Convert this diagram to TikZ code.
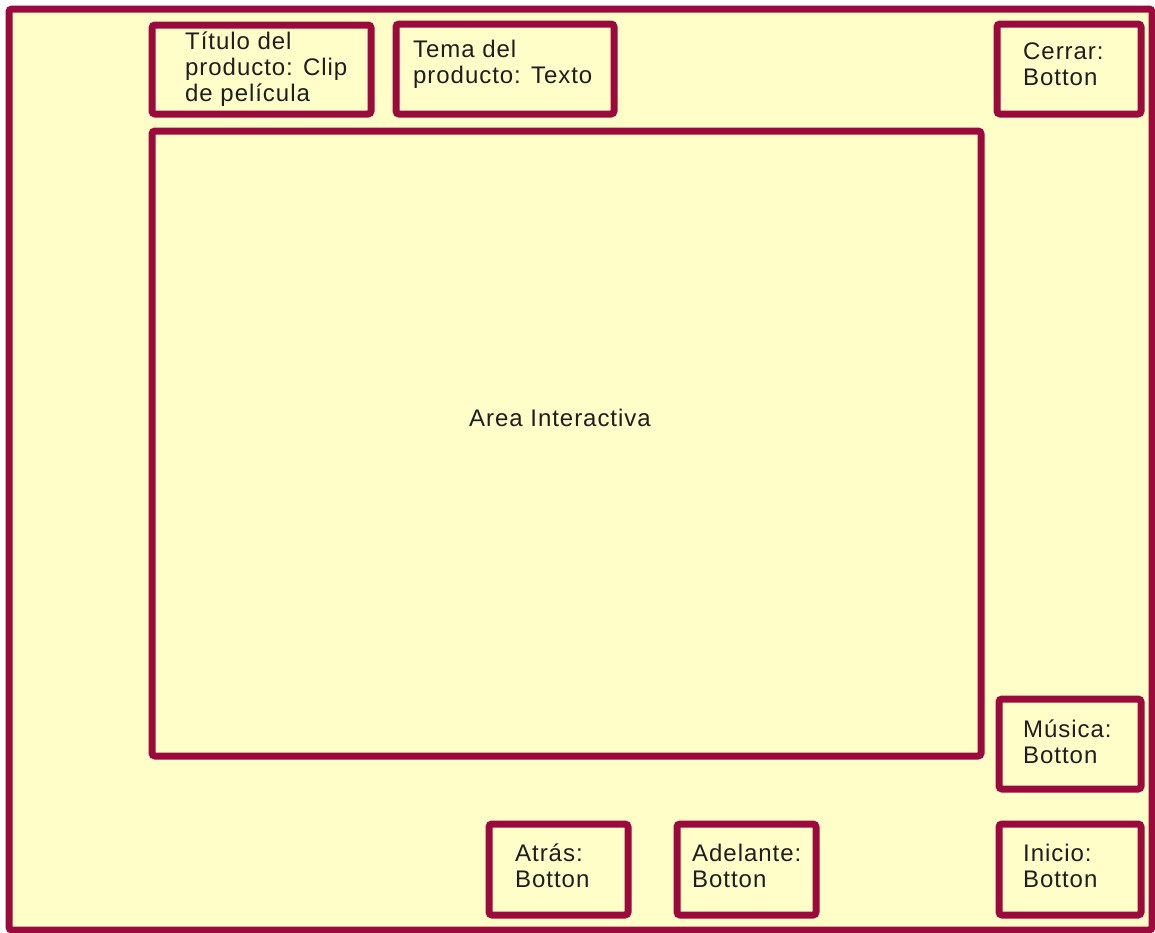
\documentclass[tikz,border=0pt]{standalone}
\usepackage{fontspec}
\newfontfamily\panelfont{Liberation Sans}[LetterSpace=4]
\definecolor{frame}{HTML}{9B0A3C}
\definecolor{paper}{HTML}{FFFDC8}
\definecolor{ink}{HTML}{1E1E1E}
\begin{document}
\begin{tikzpicture}[x=1pt,y=-1pt,
  panel/.style={draw=frame,line width=7pt,rounded corners=3pt,fill=paper,
    inner sep=0pt,outer sep=0pt},
  caption/.style={anchor=base west,inner sep=0pt,text=ink,align=left,
    font=\panelfont\fontsize{24}{26}\selectfont}]
  % page area and outer frame
  \useasboundingbox (0,0) rectangle (1155,932);
  \clip (0,0) rectangle (1155,932);
  \fill[white] (0,0) rectangle (1155,932);
  \draw[draw=frame,fill=paper,line width=7pt,rounded corners=3pt] (9,9) rectangle (1152,930);

  % boxes
  \node[panel,minimum width=219pt,minimum height=89pt] (titulo) at (261.5,69.5) {};
  \node[panel,minimum width=218pt,minimum height=90pt] (tema) at (505,69) {};
  \node[panel,minimum width=144pt,minimum height=90pt] (cerrar) at (1069,69) {};
  \node[panel,minimum width=829pt,minimum height=625pt] (area) at (566.5,443.5) {};
  \node[panel,minimum width=142pt,minimum height=90pt] (musica) at (1070,744) {};
  \node[panel,minimum width=142pt,minimum height=91pt] (inicio) at (1070,869.5) {};
  \node[panel,minimum width=139pt,minimum height=91pt] (atras) at (558.5,869.5) {};
  \node[panel,minimum width=139pt,minimum height=91pt] (adelante) at (746.5,869.5) {};

  % labels (anchored at the baseline of the last line)
  \node[caption] (tituloTxt) at (185,101) {Título del\\producto: Clip\\de película};
  \node[caption] (temaTxt) at (413,83) {Tema del\\producto: Texto};
  \node[caption] (cerrarTxt) at (1023,85) {Cerrar:\\Botton};
  \node[caption] (areaTxt) at (469,426) {Area Interactiva};
  \node[caption] (musicaTxt) at (1023,763) {Música:\\Botton};
  \node[caption] (atrasTxt) at (515,887) {Atrás:\\Botton};
  \node[caption] (adelanteTxt) at (692,887) {Adelante:\\Botton};
  \node[caption] (inicioTxt) at (1023,887) {Inicio:\\Botton};
\end{tikzpicture}
\end{document}
